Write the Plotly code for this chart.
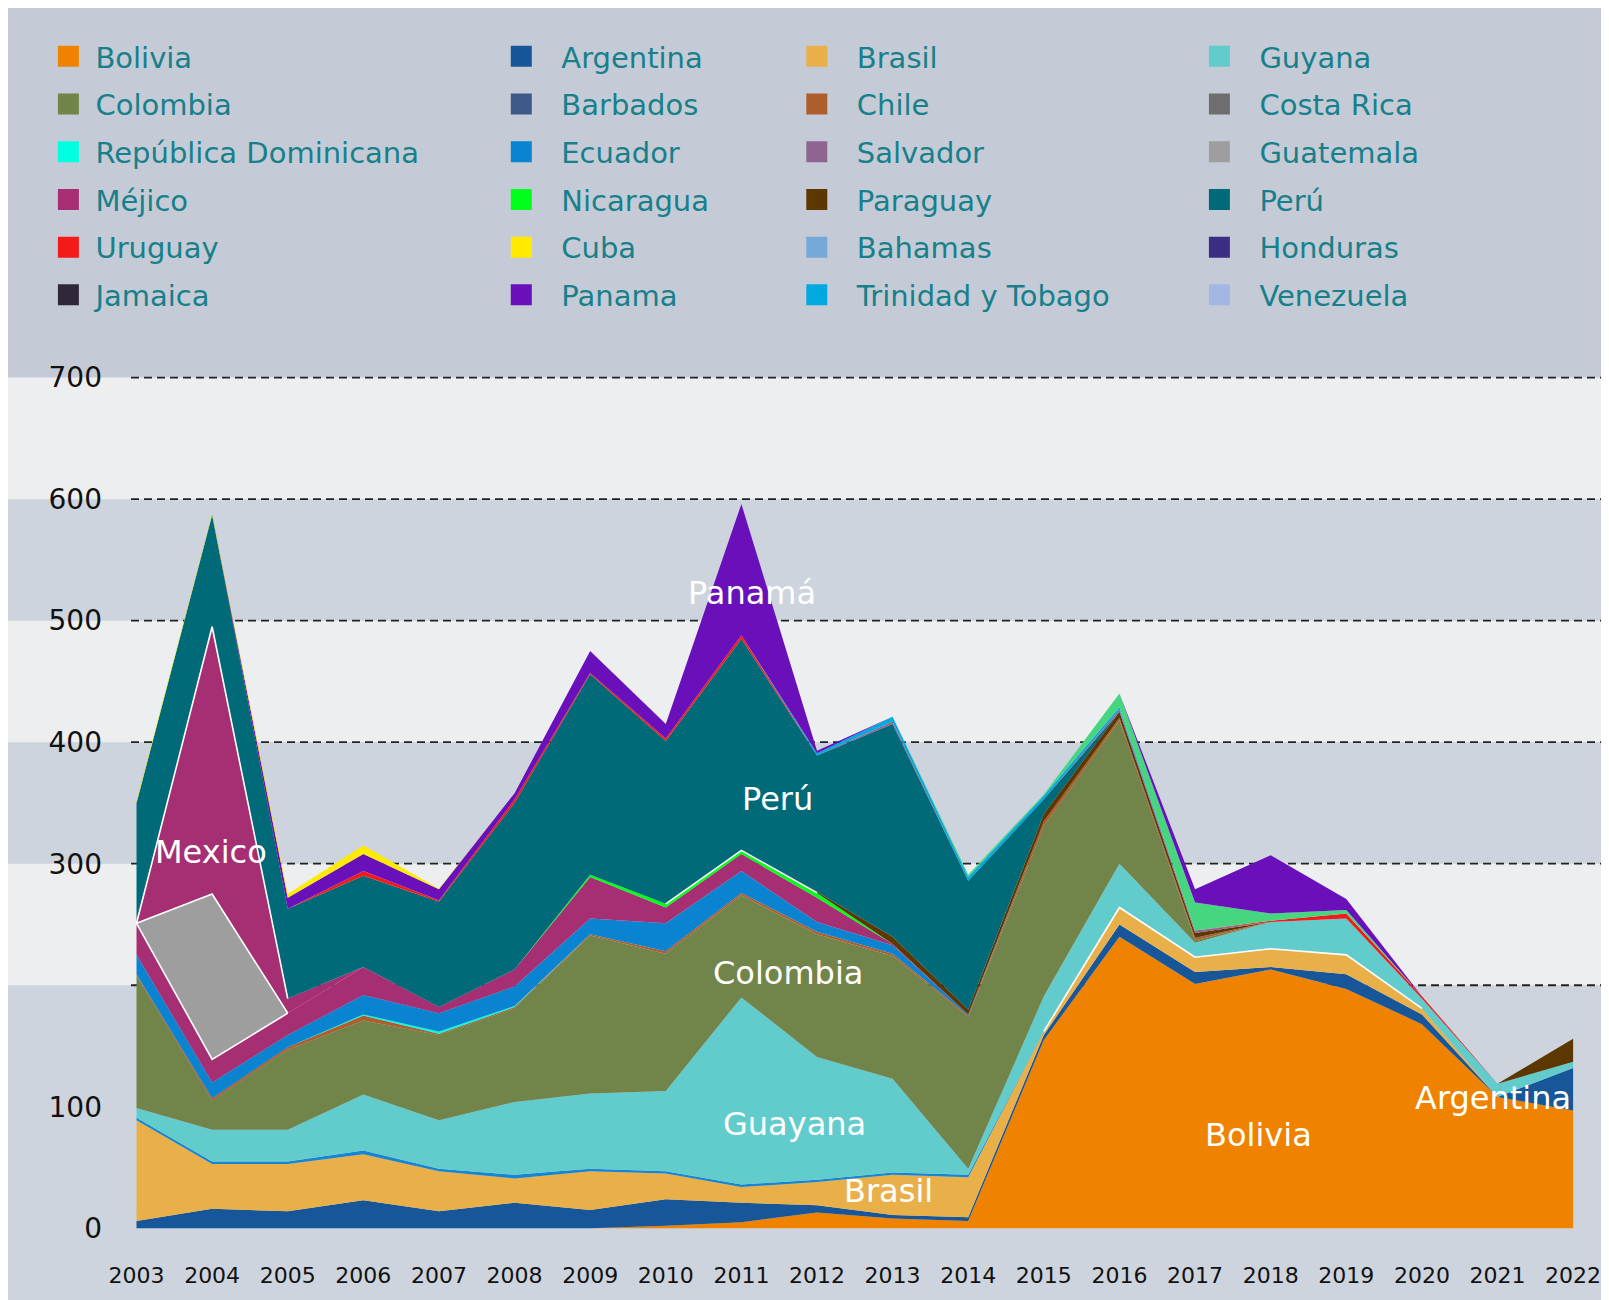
import plotly.graph_objects as go

# ---- data ----
years = list(range(2003, 2023))

# stacked series, bottom to top
bolivia   = [0, 0, 0, 0, 0, 0, 0, 2, 5, 13, 8, 6, 155, 240, 201, 213, 197, 168, 108, 97]
argentina = [6, 16, 14, 23, 14, 21, 15, 22, 16, 6, 3, 3, 4, 10, 10, 2, 12, 8, 0, 35]
brasil    = [83, 37, 39, 38, 33, 20, 32, 21, 13, 19, 33, 33, 3, 14, 12, 15, 16, 5, 0, 0]
franja_azul = [2, 2, 2, 3, 2, 3, 2, 2, 2, 2, 2, 2, 0, 0, 0, 0, 0, 0, 0, 0]
guyana    = [8, 26, 26, 46, 40, 60, 62, 66, 154, 101, 77, 5, 29, 36, 12, 22, 30, 8, 11, 5]
colombia  = [109, 24, 66, 61, 70, 77, 130, 113, 84, 101, 101, 125, 140, 118, 2, 0, 0, 0, 0, 0]
chile     = [1, 2, 2, 4, 1, 1, 1, 2, 2, 2, 2, 1, 4, 2, 2, 0, 0, 0, 0, 0]
rep_dom   = [0, 0, 0, 1, 2, 1, 0, 0, 0, 0, 0, 0, 0, 0, 0, 0, 0, 0, 0, 0]
ecuador   = [16, 13, 10, 16, 15, 16, 13, 23, 18, 8, 7, 1, 0, 0, 0, 0, 0, 0, 0, 0]
mejico_bajo = [26, 19, 18, 23, 5, 14, 34, 13, 14, 20, 1, 0, 0, 0, 0, 0, 0, 0, 0, 0]
guatemala = [0, 136, 0, 0, 0, 0, 0, 0, 0, 0, 0, 0, 0, 0, 0, 0, 0, 0, 0, 0]
mejico_alto = [0, 220, 12, 0, 0, 0, 0, 0, 0, 0, 0, 0, 0, 0, 0, 0, 0, 0, 0, 0]
nicaragua = [0, 0, 0, 0, 0, 0, 2, 3, 3, 4, 0, 0, 0, 0, 0, 0, 0, 0, 0, 0]
paraguay  = [0, 0, 0, 0, 0, 0, 0, 0, 0, 1, 6, 4, 6, 5, 4, 0, 0, 0, 0, 19]
peru      = [99, 92, 74, 75, 87, 137, 165, 134, 174, 112, 175, 106, 12, 0, 0, 0, 0, 0, 0, 0]
salvador  = [0, 0, 0, 0, 0, 0, 0, 0, 0, 0, 2, 0, 0, 2, 2, 0, 0, 0, 0, 0]
uruguay   = [0, 0, 0, 4, 1, 3, 1, 2, 3, 0, 0, 0, 0, 0, 0, 1, 4, 2, 0, 0]
trinidad  = [0, 0, 0, 0, 0, 0, 0, 0, 0, 2, 4, 3, 3, 2, 0, 0, 0, 0, 0, 0]
verde     = [0, 0, 0, 0, 0, 0, 0, 0, 0, 0, 0, 2, 1, 11, 23, 6, 3, 0, 0, 0]
panama    = [0, 0, 9, 14, 9, 5, 18, 12, 108, 2, 0, 0, 0, 0, 11, 48, 9, 0, 0, 0]
cuba      = [1.5, 1, 3, 7, 0.5, 0, 0, 0, 0, 0, 0, 0, 0, 0, 0, 0, 0, 0, 0, 0]

colors = {
    "Bolivia": "#ef8300", "Argentina": "#175698", "Brasil": "#e9b04a", "Guyana": "#62cbcc",
    "Colombia": "#71844a", "Barbados": "#3d5a89", "Chile": "#ae5e2c", "Costa Rica": "#6e6e6e",
    "República Dominicana": "#00ffe0", "Ecuador": "#0a84d1", "Salvador": "#8e6590",
    "Guatemala": "#9e9e9e", "Méjico": "#a62f74", "Nicaragua": "#00ff1a", "Paraguay": "#5c3800",
    "Perú": "#006a78", "Uruguay": "#f51a1a", "Cuba": "#ffea00", "Bahamas": "#74a9d8",
    "Honduras": "#3b2e84", "Jamaica": "#30283a", "Panama": "#6a10bb",
    "Trinidad y Tobago": "#00a9e0", "Venezuela": "#a2b8e3",
}

stack = [
    ("Bolivia", bolivia), ("Argentina", argentina), ("Brasil", brasil),
    ("#1586d3", franja_azul), ("Guyana", guyana), ("Colombia", colombia),
    ("Chile", chile), ("República Dominicana", rep_dom), ("Ecuador", ecuador),
    ("Méjico", mejico_bajo), ("Guatemala", guatemala), ("Méjico", mejico_alto),
    ("Nicaragua", nicaragua), ("Paraguay", paraguay), ("Perú", peru),
    ("Salvador", salvador), ("Uruguay", uruguay), ("Trinidad y Tobago", trinidad),
    ("#47d680", verde), ("Panama", panama), ("Cuba", cuba),
]

legend_cols = [
    ["Bolivia", "Colombia", "República Dominicana", "Méjico", "Uruguay", "Jamaica"],
    ["Argentina", "Barbados", "Ecuador", "Nicaragua", "Cuba", "Panama"],
    ["Brasil", "Chile", "Salvador", "Paraguay", "Bahamas", "Trinidad y Tobago"],
    ["Guyana", "Costa Rica", "Guatemala", "Perú", "Honduras", "Venezuela"],
]

labels = [("Mexico", 2003.98, 310), ("Panamá", 2011.14, 523), ("Perú", 2011.48, 353),
          ("Colombia", 2011.61, 210), ("Guayana", 2011.70, 86), ("Brasil", 2012.95, 31),
          ("Bolivia", 2017.84, 77), ("Argentina", 2020.94, 107)]

y_ticks = [0, 100, 300, 400, 500, 600, 700]
grid_vals = [200, 300, 400, 500, 600, 700]
light_bands = [(200, 300), (400, 500), (600, 700)]

# thin white edges seen in the picture: (series index in stack, first year idx, last year idx)
white_edges = [(9, 0, 2), (10, 0, 2), (11, 0, 2), (12, 7, 9), (2, 12, 17)]

# ---- layout geometry (figure pixels; the page adds an 8px body margin) ----
W, H = 1601, 1292
L, R, T, B = 123, 3, 352, 44
Y_RANGE = [-22.8, 714.5]
X_RANGE = [2002.927, 2022.435]


def px_x(px):
    return (px - L) / (W - L - R)


def px_y(py):
    return (H - B - py) / (H - T - B)


fig = go.Figure()

tops = []
running = [0] * len(years)
for name, vals in stack:
    running = [a + b for a, b in zip(running, vals)]
    tops.append(running)
    col = colors.get(name, name)
    fig.add_trace(go.Scatter(
        x=years, y=vals, stackgroup="one", mode="none",
        fillcolor=col, line=dict(width=0), showlegend=False,
        name=name if name in colors else "", hoverinfo="x+y+name",
    ))

for idx, a, b in white_edges:
    fig.add_trace(go.Scatter(
        x=years[a:b + 1], y=tops[idx][a:b + 1], mode="lines",
        line=dict(color="white", width=1.6), showlegend=False, hoverinfo="skip",
    ))

legend_x = [33.4, 473.3, 768.8, 1171.4]
legend_iw = [44, 70, 70, 70]
for i, col_names in enumerate(legend_cols):
    lg = "legend" if i == 0 else f"legend{i + 1}"
    for n in col_names:
        fig.add_trace(go.Scatter(
            x=[None], y=[None], mode="markers", name=n, legend=lg, legendgroup=n,
            marker=dict(symbol="square", size=16, color=colors[n],
                        line=dict(color=colors[n], width=5)),
        ))
    fig.update_layout({lg: dict(
        x=px_x(legend_x[i]), y=px_y(23), xanchor="left", yanchor="top",
        orientation="v", bgcolor="rgba(0,0,0,0)", itemwidth=legend_iw[i],
        tracegroupgap=7, itemclick=False,
        font=dict(family="DejaVu Sans", size=29, color="#17808a"),
    )})

shapes = [
    # whole panel
    dict(type="rect", xref="paper", yref="paper", x0=px_x(0), x1=px_x(1598),
         y0=px_y(1300), y1=px_y(-3), fillcolor="#c4cbd6", line=dict(width=0), layer="below"),
    # chart zone
    dict(type="rect", xref="paper", yref="paper", x0=px_x(0), x1=px_x(1598),
         y0=px_y(1300), y1=(700 - Y_RANGE[0]) / (Y_RANGE[1] - Y_RANGE[0]),
         fillcolor="#cdd4dd", line=dict(width=0), layer="below"),
]
for lo, hi in light_bands:
    shapes.append(dict(type="rect", xref="paper", yref="y", x0=px_x(0), x1=px_x(1598),
                       y0=lo, y1=hi, fillcolor="#eceef0", line=dict(width=0), layer="below"))
for v in grid_vals:
    shapes.append(dict(type="line", xref="paper", yref="y", x0=0, x1=1, y0=v, y1=v,
                       line=dict(color="#222222", width=1.8, dash="8px,5px"), layer="below"))

annotations = [dict(x=x, y=y, text=t, showarrow=False, xref="x", yref="y",
                    font=dict(family="DejaVu Sans", size=32, color="white"))
               for t, x, y in labels]

fig.update_layout(
    width=W, height=H, autosize=False,
    margin=dict(l=L, r=R, t=T, b=B),
    paper_bgcolor="white", plot_bgcolor="rgba(0,0,0,0)",
    shapes=shapes, annotations=annotations,
    xaxis=dict(range=X_RANGE, tickvals=years, ticktext=[str(y) for y in years],
               showgrid=False, zeroline=False, showline=False, ticks="",
               ticklabelstandoff=4, automargin=False,
               tickfont=dict(family="DejaVu Sans", size=22, color="#111111")),
    yaxis=dict(range=Y_RANGE, tickvals=y_ticks, ticktext=[str(v) for v in y_ticks],
               showgrid=False, zeroline=False, showline=False, ticks="",
               ticklabelstandoff=28, automargin=False,
               tickfont=dict(family="DejaVu Sans", size=28, color="#111111")),
)

fig.write_html("out.html")
